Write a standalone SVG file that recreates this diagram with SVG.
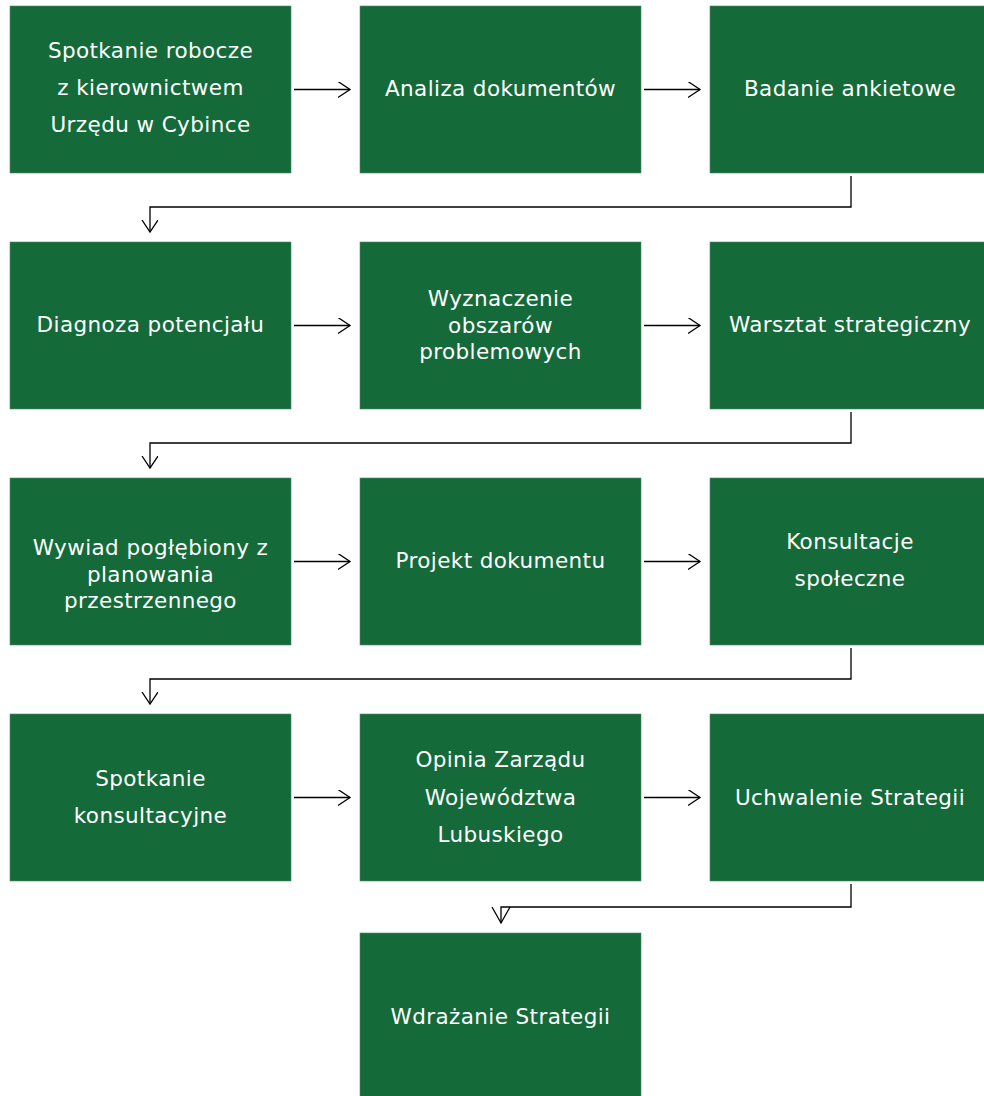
<svg xmlns="http://www.w3.org/2000/svg" width="984" height="1096" viewBox="0 0 984 1096">
<style>
.box{fill:#146A39;stroke:#4f8a66;stroke-width:0.6}
.t{fill:#ffffff;font-family:"DejaVu Sans","Liberation Sans",sans-serif;font-size:21.5px;text-anchor:middle;letter-spacing:0.4px}
.c{fill:none;stroke:#000;stroke-width:1.3}
</style>
<defs>
<marker id="ah" markerWidth="20" markerHeight="20" refX="12" refY="8" orient="auto" markerUnits="userSpaceOnUse">
<path d="M0,0 L12,8 L0,16" fill="none" stroke="#000" stroke-width="1.3"/>
</marker>
</defs>
<rect width="984" height="1096" fill="#ffffff"/>
<g id="n1"><rect class="box" x="10" y="6" width="281" height="167"/><text class="t" x="150.5" y="58">Spotkanie robocze</text><text class="t" x="150.5" y="95">z kierownictwem</text><text class="t" x="150.5" y="132">Urzędu w Cybince</text></g>
<g id="n2"><rect class="box" x="360" y="6" width="281" height="167"/><text class="t" x="500.5" y="96">Analiza dokumentów</text></g>
<g id="n3"><rect class="box" x="710" y="6" width="281" height="167"/><text class="t" x="850" y="96">Badanie ankietowe</text></g>
<g id="n4"><rect class="box" x="10" y="242" width="281" height="167"/><text class="t" x="150.5" y="332">Diagnoza potencjału</text></g>
<g id="n5"><rect class="box" x="360" y="242" width="281" height="167"/><text class="t" x="500.5" y="306">Wyznaczenie</text><text class="t" x="500.5" y="333">obszarów</text><text class="t" x="500.5" y="359">problemowych</text></g>
<g id="n6"><rect class="box" x="710" y="242" width="281" height="167"/><text class="t" x="850" y="332">Warsztat strategiczny</text></g>
<g id="n7"><rect class="box" x="10" y="478" width="281" height="167"/><text class="t" x="150.5" y="555">Wywiad pogłębiony z</text><text class="t" x="150.5" y="582">planowania</text><text class="t" x="150.5" y="608">przestrzennego</text></g>
<g id="n8"><rect class="box" x="360" y="478" width="281" height="167"/><text class="t" x="500.5" y="568">Projekt dokumentu</text></g>
<g id="n9"><rect class="box" x="710" y="478" width="281" height="167"/><text class="t" x="850" y="549">Konsultacje</text><text class="t" x="850" y="586">społeczne</text></g>
<g id="n10"><rect class="box" x="10" y="714" width="281" height="167"/><text class="t" x="150.5" y="786">Spotkanie</text><text class="t" x="150.5" y="823">konsultacyjne</text></g>
<g id="n11"><rect class="box" x="360" y="714" width="281" height="167"/><text class="t" x="500.5" y="767">Opinia Zarządu</text><text class="t" x="500.5" y="805">Województwa</text><text class="t" x="500.5" y="842">Lubuskiego</text></g>
<g id="n12"><rect class="box" x="710" y="714" width="281" height="167"/><text class="t" x="850" y="805">Uchwalenie Strategii</text></g>
<g id="n13"><rect class="box" x="360" y="933" width="281" height="180"/><text class="t" x="500.5" y="1024">Wdrażanie Strategii</text></g>
<g id="connectors">
<path class="c" d="M294,89.5 H350" marker-end="url(#ah)"/>
<path class="c" d="M644,89.5 H700" marker-end="url(#ah)"/>
<path class="c" d="M851,176 V207 H150 V232" marker-end="url(#ah)"/>
<path class="c" d="M294,325.5 H350" marker-end="url(#ah)"/>
<path class="c" d="M644,325.5 H700" marker-end="url(#ah)"/>
<path class="c" d="M851,412 V443 H150 V468" marker-end="url(#ah)"/>
<path class="c" d="M294,561.5 H350" marker-end="url(#ah)"/>
<path class="c" d="M644,561.5 H700" marker-end="url(#ah)"/>
<path class="c" d="M851,648 V679 H150 V704" marker-end="url(#ah)"/>
<path class="c" d="M294,797.5 H350" marker-end="url(#ah)"/>
<path class="c" d="M644,797.5 H700" marker-end="url(#ah)"/>
<path class="c" d="M851,884 V907 H501 V923"/>
<path class="c" d="M492,907 L501,923 L510,907"/>
</g>
</svg>
